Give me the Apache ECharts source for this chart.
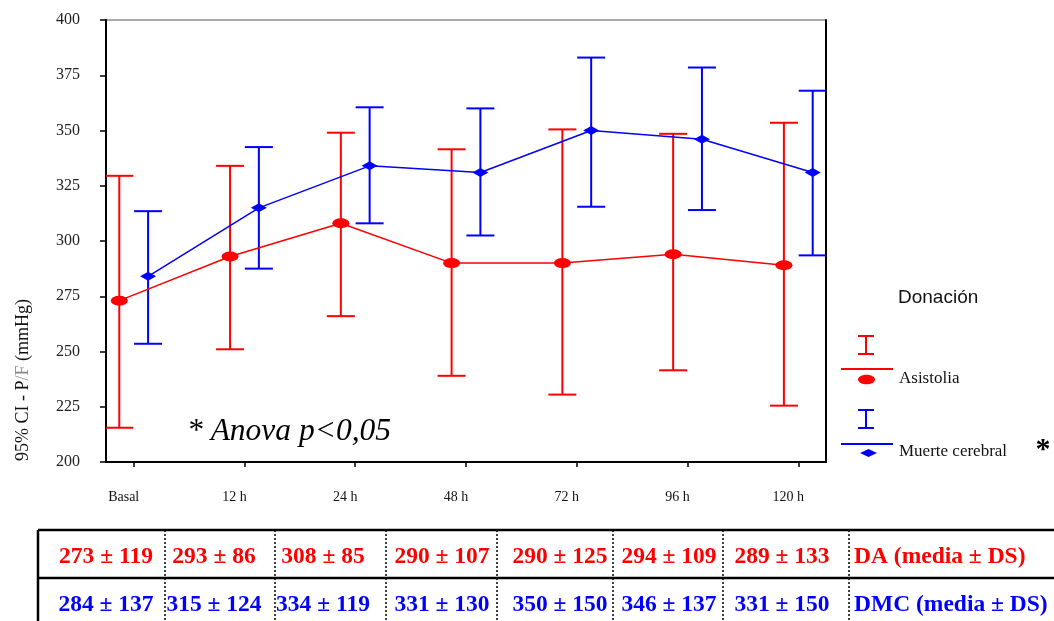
<!DOCTYPE html>
<html>
<head>
<meta charset="utf-8">
<title>P/F por tipo de donación</title>
<script src="https://cdn.jsdelivr.net/npm/echarts@6/dist/echarts.min.js"></script>
<style>
  html, body { margin: 0; padding: 0; background: #fff; }
  #chart { width: 1054px; height: 621px; }
</style>
</head>
<body>
<div id="chart"></div>
<script>
// Time points of the study
const categories = ['Basal', '12 h', '24 h', '48 h', '72 h', '96 h', '120 h'];

// Donación en asistolia (DA): mean, SD and 95% CI bounds of P/F
const asistoliaMean = [273, 293, 308, 290, 290, 294, 289];
const asistoliaSD   = [119, 86, 85, 107, 125, 109, 133];
const asistoliaLow  = [215.5, 251, 266, 239, 230.5, 241.5, 225.5];
const asistoliaHigh = [329.5, 334, 349, 341.5, 350.5, 348.5, 353.5];

// Donación en muerte cerebral (DMC): mean, SD and 95% CI bounds of P/F
const muerteMean = [284, 315, 334, 331, 350, 346, 331];
const muerteSD   = [137, 124, 119, 130, 150, 137, 150];
const muerteLow  = [253.5, 287.5, 308, 302.5, 315.5, 314, 293.5];
const muerteHigh = [313.5, 342.5, 360.5, 360, 383, 378.5, 368];

// Y axis range and step
const yMin = 200, yMax = 400, yStep = 25;

// Layout helpers
const RED = '#ff0000';
const BLUE = '#0000ff';
const SERIF = '"Liberation Serif", "Times New Roman", serif';
const SANS = '"Liberation Sans", Arial, sans-serif';
const DODGE = 0.13;           // horizontal shift of each group around the tick
const CAP = 14;               // half width of error bar caps (px)

const chart = echarts.init(document.getElementById('chart'), null, { renderer: 'canvas' });

function errorBarItem(color) {
  return function (params, api) {
    const x = api.value(0);
    const lo = api.coord([x, api.value(1)]);
    const hi = api.coord([x, api.value(2)]);
    const st = { stroke: color, lineWidth: 2 };
    return {
      type: 'group',
      children: [
        { type: 'line', shape: { x1: lo[0], y1: lo[1], x2: hi[0], y2: hi[1] }, style: st },
        { type: 'line', shape: { x1: lo[0] - CAP, y1: lo[1], x2: lo[0] + CAP, y2: lo[1] }, style: st },
        { type: 'line', shape: { x1: hi[0] - CAP, y1: hi[1], x2: hi[0] + CAP, y2: hi[1] }, style: st }
      ]
    };
  };
}

const idx = categories.map((_, i) => i);

const series = [
  {
    name: 'Asistolia IC',
    type: 'custom',
    clip: true,
    renderItem: errorBarItem(RED),
    encode: { x: 0, y: [1, 2] },
    data: idx.map(i => [i - DODGE, asistoliaLow[i], asistoliaHigh[i]]),
    z: 2
  },
  {
    name: 'Muerte cerebral IC',
    type: 'custom',
    clip: true,
    renderItem: errorBarItem(BLUE),
    encode: { x: 0, y: [1, 2] },
    data: idx.map(i => [i + DODGE, muerteLow[i], muerteHigh[i]]),
    z: 2
  },
  {
    name: 'Asistolia',
    type: 'line',
    data: idx.map(i => [i - DODGE, asistoliaMean[i]]),
    symbol: 'circle',
    symbolSize: [17, 10],
    showAllSymbol: true,
    lineStyle: { color: RED, width: 1.5 },
    itemStyle: { color: RED },
    z: 4
  },
  {
    name: 'Muerte cerebral',
    type: 'line',
    data: idx.map(i => [i + DODGE, muerteMean[i]]),
    symbol: 'diamond',
    symbolSize: [16, 9],
    showAllSymbol: true,
    lineStyle: { color: BLUE, width: 1.5 },
    itemStyle: { color: BLUE },
    z: 4
  }
];

// Summary table under the plot (mean ± SD)
const tableTop = 530, rowDiv = 578, tableLeft = 38;
const colSeps = [165, 275, 386, 497, 613, 723, 849];
const colText = [106, 214, 323, 442, 560, 669, 782];
const row1Y = 557, row2Y = 605;

const graphics = [];

function hLine(x1, x2, y, w, dash) {
  graphics.push({ type: 'line', shape: { x1, y1: y, x2, y2: y },
    style: { stroke: '#000', lineWidth: w, lineDash: dash || null }, silent: true });
}
function vLine(x, y1, y2, w, dash, color) {
  graphics.push({ type: 'line', shape: { x1: x, y1, x2: x, y2 },
    style: { stroke: color || '#000', lineWidth: w, lineDash: dash || null }, silent: true });
}
function text(x, y, str, font, fill, align, extra) {
  graphics.push(Object.assign({
    type: 'text', x, y, silent: true,
    style: { text: str, font, fill, align: align || 'left', verticalAlign: 'middle',
             textAlign: align || 'left', textVerticalAlign: 'middle' }
  }, extra || {}));
}

hLine(tableLeft, 1054, tableTop, 2.5);
hLine(tableLeft, 1054, rowDiv, 2.5);
vLine(tableLeft, tableTop, 621, 2.5);
colSeps.forEach(x => vLine(x, tableTop, 621, 1.5, [2, 2]));

const cellFont = 'bold 23.5px ' + SERIF;
idx.forEach(i => {
  text(colText[i], row1Y, asistoliaMean[i] + ' ± ' + asistoliaSD[i], cellFont, RED, 'center');
  text(colText[i], row2Y, muerteMean[i] + ' ± ' + muerteSD[i], cellFont, BLUE, 'center');
});
text(854, row1Y, 'DA (media ± DS)', cellFont, RED, 'left');
text(854, row2Y, 'DMC (media ± DS)', cellFont, BLUE, 'left');

// Legend block
text(898, 298, 'Donación', '19px ' + SANS, '#111', 'left');
function legendBar(cx, yTop, yBot, color) {
  graphics.push({ type: 'line', shape: { x1: cx, y1: yTop, x2: cx, y2: yBot }, style: { stroke: color, lineWidth: 2 }, silent: true });
  graphics.push({ type: 'line', shape: { x1: cx - 8, y1: yTop, x2: cx + 8, y2: yTop }, style: { stroke: color, lineWidth: 2 }, silent: true });
  graphics.push({ type: 'line', shape: { x1: cx - 8, y1: yBot, x2: cx + 8, y2: yBot }, style: { stroke: color, lineWidth: 2 }, silent: true });
}
legendBar(866, 336, 354, RED);
graphics.push({ type: 'line', shape: { x1: 841, y1: 369, x2: 893, y2: 369 }, style: { stroke: RED, lineWidth: 2 }, silent: true });
graphics.push({ type: 'ellipse', shape: { cx: 866.5, cy: 379.5, rx: 8.5, ry: 4.8 }, style: { fill: RED }, silent: true });
text(899, 379, 'Asistolia', '17px ' + SERIF, '#111', 'left');

legendBar(866, 410, 428, BLUE);
graphics.push({ type: 'line', shape: { x1: 841, y1: 444, x2: 893, y2: 444 }, style: { stroke: BLUE, lineWidth: 2 }, silent: true });
graphics.push({ type: 'polygon', shape: { points: [[860, 453], [868.5, 449], [877, 453], [868.5, 457]] }, style: { fill: BLUE }, silent: true });
text(899, 452, 'Muerte cerebral', '17px ' + SERIF, '#111', 'left');
text(1043, 450, '*', 'bold 30px ' + SERIF, '#000', 'center');

// Annotation inside the plot
text(187, 432, '* Anova p<0,05', 'italic 31.5px ' + SERIF, '#000', 'left');

// Rotated Y axis title
graphics.push({
  type: 'text', x: 23, y: 380, rotation: Math.PI / 2, silent: true,
  style: {
    text: '95% CI - P{g|/F} (mmHg)',
    font: '18px ' + SERIF, fill: '#111',
    align: 'center', verticalAlign: 'middle',
    textAlign: 'center', textVerticalAlign: 'middle',
    rich: { g: { fill: '#8a8a8a', font: '18px ' + SERIF } }
  }
});

const option = {
  animation: false,
  backgroundColor: '#fff',
  grid: {
    left: 106, right: 228, top: 20, bottom: 159,
    show: true, borderColor: '#555', borderWidth: 1, backgroundColor: 'transparent'
  },
  xAxis: {
    type: 'value',
    min: -0.25,
    max: 6.25,
    splitLine: { show: false },
    axisLine: { show: true, onZero: false, lineStyle: { color: '#000', width: 2 } },
    axisTick: { show: true, inside: false, length: 5, customValues: idx, lineStyle: { color: '#000', width: 1.5 } },
    axisLabel: {
      customValues: idx,
      formatter: v => categories[Math.round(v)] || '',
      margin: 28,
      padding: [0, 20, 0, 0],
      fontFamily: SERIF, fontSize: 14, color: '#111'
    }
  },
  yAxis: [
    {
      type: 'value',
      min: yMin, max: yMax, interval: yStep,
      splitLine: { show: false },
      axisLine: { show: true, onZero: false, lineStyle: { color: '#000', width: 2 } },
      axisTick: { show: true, inside: false, length: 6, lineStyle: { color: '#000', width: 1.5 } },
      axisLabel: { margin: 26, fontFamily: SERIF, fontSize: 16, color: '#222' }
    },
    {
      type: 'value',
      position: 'right',
      min: yMin, max: yMax,
      splitLine: { show: false },
      axisLine: { show: true, onZero: false, lineStyle: { color: '#000', width: 2 } },
      axisTick: { show: false },
      axisLabel: { show: false }
    }
  ],
  series,
  graphic: graphics
};

chart.setOption(option);
</script>
</body>
</html>
